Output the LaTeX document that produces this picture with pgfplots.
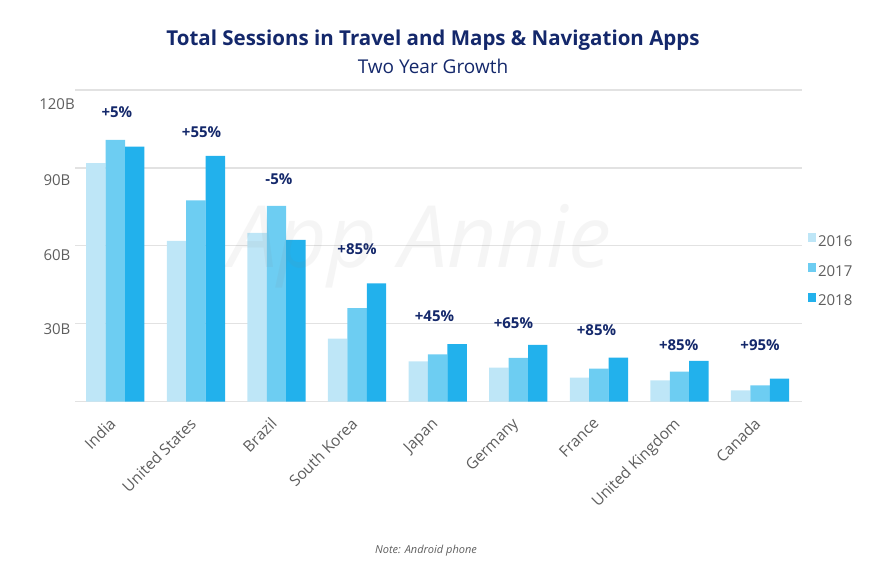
\documentclass[border=0pt]{standalone}
\usepackage{fontspec}
\setmainfont{Open Sans}
\usepackage{pgfplots}
\pgfplotsset{compat=1.18}
\definecolor{c16}{HTML}{BEE6F7}
\definecolor{c17}{HTML}{6DCDF2}
\definecolor{c18}{HTML}{22B1EC}
\definecolor{navy}{HTML}{14286B}
\definecolor{lblgray}{HTML}{5E5E5E}
\definecolor{gridgray}{HTML}{E2E2E2}

\begin{document}
\begin{tikzpicture}
\path[use as bounding box] (0pt,0pt) rectangle (878pt,578pt);

\node[font=\fontsize{20.5}{24}\selectfont\bfseries, text=navy] at (433pt,538pt)
  {Total Sessions in Travel and Maps \& Navigation Apps};
\node[font=\fontsize{19}{23}\selectfont, text=navy] at (433pt,512pt) {Two Year Growth};
\node[font=\fontsize{11}{14}\selectfont\itshape, text=lblgray] at (426pt,27pt) {Note: Android phone};

\begin{axis}[
  at={(75pt,176.3pt)}, anchor=south west,
  scale only axis, width=727pt, height=311.7pt,
  ybar=0pt, bar width=0.241,
  xmin=-0.5, xmax=8.52, ymin=0, ymax=120,
  clip=false,
  axis line style={draw=none}, major tick length=0pt,
  xtick={0,...,8},
  xticklabels={India,United States,Brazil,South Korea,Japan,Germany,France,United Kingdom,Canada},
  xticklabel style={font=\fontsize{15.5}{18}\selectfont, text=lblgray,
                    xshift=-7pt, yshift=-10pt, rotate=45, anchor=north east},
  ytick={-1.3,27.9,56.5,85.3,114.4},
  yticklabels={0,30B,60B,90B,120B},
  yticklabel style={font=\fontsize{15}{18}\selectfont, text=lblgray, anchor=center, xshift=-18pt},
  extra y ticks={0,30,60,90,120}, extra y tick labels={},
  extra y tick style={ymajorgrids=true, major tick length=0pt},
  grid style={gridgray, line width=1.3pt},
  legend style={at={(1.008,0.541)}, anchor=north west, draw=none, fill=none,
                font=\fontsize{15}{18}\selectfont, text=lblgray, row sep=13.5pt,
                inner sep=0pt},
  legend cell align=left,
]
\addplot[fill=c16, draw=none,
  legend image code/.code={\fill[c16] (0pt,-1pt) rectangle (8pt,8pt);}]
  coordinates {(0,91.8) (1,61.9) (2,65.0) (3,24.3) (4,15.5) (5,13.1) (6,9.3) (7,8.2) (8,4.4)};
\addlegendentry{2016}
\addplot[fill=c17, draw=none,
  legend image code/.code={\fill[c17] (0pt,-1pt) rectangle (8pt,8pt);}]
  coordinates {(0,100.8) (1,77.5) (2,75.4) (3,36.0) (4,18.2) (5,16.9) (6,12.7) (7,11.6) (8,6.3)};
\addlegendentry{2017}
\addplot[fill=c18, draw=none,
  legend image code/.code={\fill[c18] (0pt,-1pt) rectangle (8pt,8pt);}]
  coordinates {(0,98.2) (1,94.6) (2,62.3) (3,45.6) (4,22.2) (5,21.9) (6,17.0) (7,15.7) (8,8.9)};
\addlegendentry{2018}

\begin{scope}[font=\fontsize{15}{18}\selectfont\bfseries, text=navy]
\node at (axis cs:0.02,111.3) {+5\%};
\node at (axis cs:1.07,103.6) {+55\%};
\node at (axis cs:2.03,85.6) {-5\%};
\node at (axis cs:3.0,58.8) {+85\%};
\node at (axis cs:3.96,33.1) {+45\%};
\node at (axis cs:4.94,30.2) {+65\%};
\node at (axis cs:5.97,27.6) {+85\%};
\node at (axis cs:6.99,21.8) {+85\%};
\node at (axis cs:8.0,21.8) {+95\%};
\end{scope}
\node[font=\fontsize{86}{86}\selectfont\itshape, text=gray, opacity=0.08]
  at (axis cs:3.78,60) {App Annie};
\end{axis}
\end{tikzpicture}
\end{document}
